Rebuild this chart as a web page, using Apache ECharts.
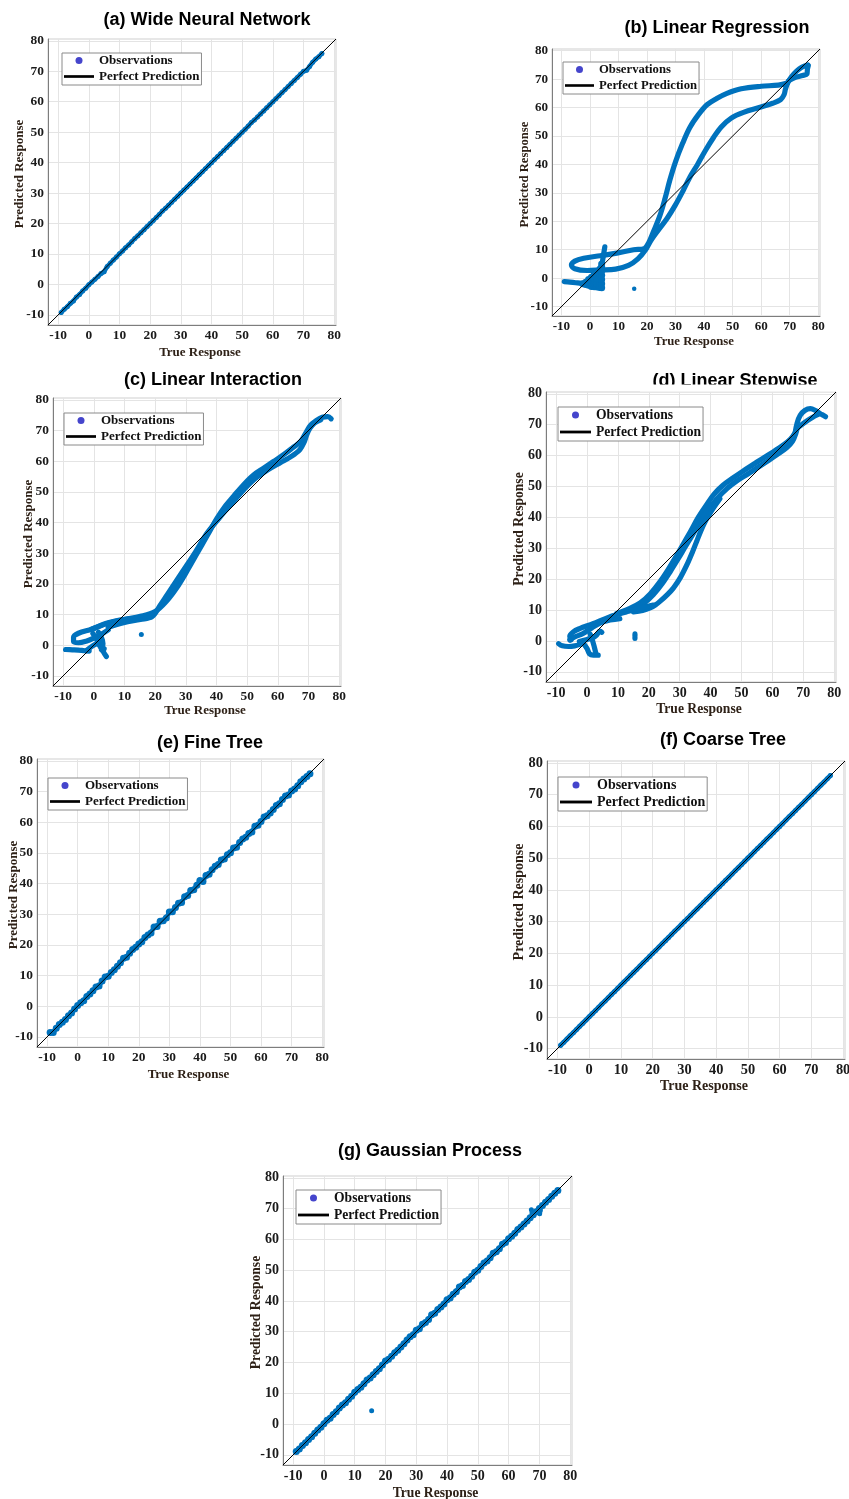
<!DOCTYPE html>
<html><head><meta charset="utf-8">
<script src="https://cdn.jsdelivr.net/npm/echarts@6/dist/echarts.min.js"></script>
<style>html,body{margin:0;padding:0;background:#fff}#chart{width:849px;height:1499px}</style>
</head><body><div id="chart"></div>
<script>
// ---------------- DATA ----------------
const tickValues = [-10, 0, 10, 20, 30, 40, 50, 60, 70, 80];
const axisLimits = [-13.3, 80.6];
const panelTitles = ['(a) Wide Neural Network', '(b) Linear Regression', '(c) Linear Interaction',
  '(d) Linear Stepwise', '(e) Fine Tree', '(f) Coarse Tree', '(g) Gaussian Process'];
const legendNames = ['Observations', 'Perfect Prediction'];

const trueResp = [
  -9, -8, -7, -6, -5, -4, -3, -2, -1, 0,
  1, 2, 3, 4, 5, 6, 7, 8, 9, 10,
  11, 12, 13, 14, 15, 16, 17, 18, 19, 20,
  21, 22, 23, 24, 25, 26, 27, 28, 29, 30,
  31, 32, 33, 34, 35, 36, 37, 38, 39, 40,
  41, 42, 43, 44, 45, 46, 47, 48, 49, 50,
  51, 52, 53, 54, 55, 56, 57, 58, 59, 60,
  61, 62, 63, 64, 65, 66, 67, 68, 69, 70,
  71, 72, 73, 74, 75, 76];
const predWNN = [
  -9.2, -8.1, -7.3, -6.2, -5.4, -4.1, -3.3, -2.1, -1.2, -0.1,
  0.8, 1.7, 2.6, 3.6, 4.2, 5.9, 7.0, 8.0, 9.0, 10.1,
  11.0, 12.1, 13.0, 14.0, 15.1, 16.0, 17.0, 18.0, 19.0, 20.0,
  21.0, 22.0, 23.0, 24.1, 25.0, 26.0, 27.0, 28.0, 29.0, 30.0,
  31.0, 32.0, 33.0, 34.0, 35.0, 36.0, 37.0, 38.0, 39.0, 40.0,
  41.0, 42.0, 43.0, 44.0, 45.0, 46.0, 47.0, 48.0, 49.0, 50.0,
  51.0, 52.0, 53.2, 54.0, 55.0, 56.0, 57.0, 58.0, 59.0, 60.0,
  61.0, 62.0, 63.0, 64.0, 65.0, 66.0, 67.0, 68.0, 69.0, 70.0,
  70.3, 71.6, 73.0, 74.0, 74.8, 75.8];
const predFineTree = [
  -8.6, -8.6, -7.2, -6.0, -5.2, -4.3, -3.1, -2.2, -0.9, 0.2,
  1.1, 1.8, 3.2, 4.0, 5.0, 6.3, 6.6, 8.2, 9.5, 9.8,
  11.0, 11.9, 13.0, 14.2, 15.6, 16.0, 17.3, 18.5, 19.2, 20.3,
  21.0, 22.4, 23.2, 23.9, 25.8, 26.0, 27.7, 27.9, 28.8, 30.7,
  30.8, 32.2, 33.6, 33.8, 35.7, 36.1, 37.7, 38.0, 39.4, 41.0,
  40.7, 42.6, 43.0, 44.5, 45.6, 46.2, 47.7, 48.0, 49.4, 50.0,
  51.6, 51.8, 53.4, 54.5, 55.1, 56.3, 56.8, 58.7, 59.0, 60.2,
  61.7, 62.1, 63.0, 64.1, 65.4, 66.0, 67.4, 68.5, 68.9, 70.2,
  70.8, 71.9, 73.2, 74.1, 74.9, 75.8];
const predCoarseTree = [
  -9, -8, -7, -6, -5, -4, -3, -2, -1, 0,
  1, 2, 3, 4, 5, 6, 7, 8, 9, 10,
  11, 12, 13, 14, 15, 16, 17, 18, 19, 20,
  21, 22, 23, 24, 25, 26, 27, 28, 29, 30,
  31, 32, 33, 34, 35, 36, 37, 38, 39, 40,
  41, 42, 43, 44, 45, 46, 47, 48, 49, 50,
  51, 52, 53, 54, 55, 56, 57, 58, 59, 60,
  61, 62, 63, 64, 65, 66, 67, 68, 69, 70,
  71, 72, 73, 74, 75, 76];
const predGP = [
  -8.9, -8.1, -7.0, -6.1, -5.0, -4.1, -3.0, -1.9, -1.0, 0.1,
  1.2, 1.9, 3.1, 4.0, 5.2, 6.2, 6.9, 8.1, 9.0, 10.3,
  11.2, 12.0, 13.1, 14.3, 15.0, 16.0, 17.1, 18.0, 19.2, 20.5,
  21.1, 22.0, 23.2, 24.0, 25.0, 26.1, 27.3, 28.4, 29.0, 30.5,
  31.0, 32.4, 33.0, 34.0, 35.5, 36.0, 37.2, 38.0, 39.0, 40.4,
  41.0, 42.2, 43.0, 44.5, 45.0, 46.3, 47.0, 48.0, 49.3, 50.0,
  51.2, 52.3, 53.0, 54.0, 55.5, 56.0, 57.0, 58.4, 59.0, 60.2,
  61.0, 62.0, 63.2, 64.0, 65.0, 66.0, 67.0, 68.0, 69.0, 70.0,
  71.0, 72.1, 73.0, 74.0, 75.0, 75.9];
const gpOffLine = [[15.5, 4.3], [67.4, 69.6], [67.6, 68.7], [70.1, 68.3], [70.3, 69.3]];

// (b) Linear Regression traces [true, predicted]
const lrLoop = [[69.2,68.6],[66.0,67.9],[60.0,67.5],[53.0,66.6],[48.0,65.0],[44.4,63.2],[41.0,61.0],[38.0,57.5],
  [35.0,53.0],[32.5,47.5],[30.0,41.0],[28.0,34.5],[26.3,28.0],[24.5,22.0],[22.3,16.5],[20.5,12.3],[19.0,10.4],
  [15.3,10.0],[9.4,8.8],[3.6,7.9],[-2.2,7.0],[-5.3,6.0],[-6.5,4.6],[-5.3,3.3],[-1.0,2.7],[3.6,2.9],[9.0,3.2],
  [13.5,4.5],[16.8,6.8],[19.5,10.0],[21.5,13.5],[24.0,17.0],[27.0,21.0],[29.8,25.5],[32.5,30.5],[35.0,35.5],
  [37.7,40.0],[40.5,45.0],[43.3,49.5],[46.0,53.2],[49.5,56.3],[53.8,58.3],[59.6,60.1],[64.0,61.5],[66.8,62.8],
  [68.0,64.5],[68.5,66.5],[69.2,68.6]];
const lrTailA = [[69.2,68.6],[70.6,70.8],[72.4,72.8],[74.2,74.2],[76.3,75.0]];
const lrTailB = [[69.6,69.4],[72.0,70.6],[74.5,71.3],[76.0,71.8],[76.2,73.5],[76.5,74.8]];
const lrStem = [[4.0,3.5],[4.4,6.0],[4.8,8.5],[5.2,11.0]];
const lrBand = [[-9.0,-1.2],[-7.0,-1.4],[-5.0,-1.6],[-3.0,-1.8],[-1.5,-2.0]];
const lrCluster = [[-2.5,-2.0],[-1.5,-2.2],[-1.5,-1.4],[-0.5,-2.5],[-0.5,-1.4],[-0.5,-0.5],
  [0.5,-2.9],[0.5,-1.8],[0.5,-0.7],[0.5,0.3],[1.5,-3.0],[1.5,-2.0],[1.5,-1.0],[1.5,0.0],[1.5,1.2],
  [2.5,-3.1],[2.5,-2.0],[2.5,-1.0],[2.5,0.0],[2.5,1.0],[2.5,2.2],
  [3.5,-3.3],[3.5,-2.2],[3.5,-1.1],[3.5,0.0],[3.5,1.1],[3.5,2.2],[3.5,3.2],
  [4.1,-3.4],[4.1,-2.0],[4.1,-0.5],[4.1,1.0],[4.1,2.5],[4.1,4.0],[4.1,5.0]];
const lrOutlier = [[15.5,-3.7]];

// (c) Linear Interaction traces
const liUpper = [[-0.7,5.2],[4.7,7.3],[9.7,8.4],[15.2,9.4],[20.0,11.0],[23.9,14.6],[27.1,18.8],[30.4,24.2],
  [33.6,29.8],[36.9,35.6],[40.2,41.4],[43.0,45.5],[45.6,48.6],[49.0,52.5],[52.1,55.5],[55.5,57.8],[58.6,59.9],
  [62.0,62.2],[65.0,64.5],[67.5,66.5],[69.0,69.0],[70.5,71.5],[72.5,73.2],[74.5,74.3],[76.3,74.5],[77.4,73.8]];
const liLower = [[4.7,5.8],[9.7,7.3],[15.2,8.4],[19.0,9.3],[21.5,12.8],[23.9,16.4],[28.2,22.9],[32.6,29.5],
  [36.9,36.5],[40.2,40.6],[43.0,44.0],[45.6,46.9],[49.0,50.8],[52.1,53.9],[56.5,57.0],[60.8,59.5],[63.5,61.0],
  [65.5,62.3],[67.2,63.8],[68.5,66.0],[69.5,68.8],[70.5,70.8],[72.0,72.5],[74.0,73.5]];
const liLoop = [[15.2,8.8],[9.7,8.3],[4.7,7.2],[-0.7,5.2],[-5.0,3.9],[-6.6,2.6],[-6.6,1.2],[-5.0,0.8],
  [-2.5,1.3],[0.0,2.3],[2.5,3.6],[4.7,5.0]];
const liBand = [[-9.2,-1.4],[-7.0,-1.5],[-5.0,-1.6],[-3.0,-1.8],[-1.5,-1.9]];
const liCrossA = [[-0.3,3.8],[1.0,1.8],[2.2,-0.5],[3.2,-2.3],[4.1,-3.7]];
const liCrossB = [[-2.5,-1.8],[-0.5,-0.3],[1.2,0.5],[2.6,-1.0],[3.4,-1.2]];
const liCrossC = [[1.5,4.2],[2.5,2.5],[3.0,0.5],[2.5,-1.5]];
const liOutlier = [[15.5,3.5]];

// (d) Linear Stepwise traces
const lsS1 = [[9.6,8.9],[13.5,10.4],[17.2,12.3],[20.5,15.3],[23.7,19.3],[26.5,23.5],[29.1,27.8],[31.3,31.6],
  [33.4,35.3],[36.0,40.0],[38.5,43.8],[41.2,47.6],[44.0,50.4],[47.0,52.6],[50.5,55.0],[53.9,57.2],[57.0,59.2],
  [60.4,61.3],[63.5,63.4],[65.8,65.3],[67.4,67.5],[68.2,69.5]];
const lsS2 = [[15.0,9.8],[18.5,12.2],[21.5,15.0],[24.3,18.5],[26.9,22.4],[29.5,26.6],[31.8,30.5],[33.8,33.8],
  [35.5,36.6],[38.8,41.9],[42.0,46.0],[45.3,49.3],[48.5,51.8],[51.8,53.9],[55.0,56.0],[58.2,58.1],[61.5,60.3],
  [64.7,62.6],[66.5,64.6],[67.6,67.2],[68.2,69.5]];
const lsS3 = [[15.0,9.4],[18.0,9.9],[20.4,10.7],[22.2,11.7],[23.6,12.8],[26.0,15.0],[28.0,17.2],[30.2,20.5],
  [32.3,24.6],[34.0,28.5],[35.5,32.3],[36.9,35.8],[38.2,38.6],[39.5,40.8],[40.9,43.0],[43.0,46.0]];
const lsHook = [[67.4,67.5],[68.0,70.5],[69.0,73.0],[70.5,74.6],[72.3,75.2],[74.0,74.6],[75.5,73.6],[76.6,73.0],[77.2,72.6]];
const lsHookB = [[68.2,69.0],[70.5,70.8],[72.8,72.3],[75.0,73.4]];
const lsLoopA = [[21.4,11.6],[17.0,10.6],[12.7,9.4],[7.3,7.8],[1.9,5.6],[-2.4,4.0],[-4.5,2.9],[-5.6,1.5],[-5.2,0.3]];
const lsLoopB = [[10.6,7.2],[5.2,6.2],[1.5,4.2],[-1.3,2.4],[-4.0,1.3],[-5.6,0.3]];
const lsBand = [[-9.2,-0.9],[-8.0,-1.6],[-6.0,-1.8],[-4.0,-1.6],[-2.5,-1.2]];
const lsCrossA = [[-1.2,-0.8],[0.0,-2.5],[0.8,-4.2],[2.0,-4.6],[3.6,-4.6]];
const lsCrossB = [[-2.5,-0.2],[0.0,0.5],[1.8,1.0],[3.0,1.8],[4.2,3.2],[4.8,2.8]];
const lsCrossC = [[1.0,2.2],[1.8,0.0],[2.4,-2.2],[2.8,-3.8]];
const lsOutlier = [[15.5,0.8],[15.5,1.3],[15.5,1.8],[15.5,2.3]];

// ---------------- LAYOUT / STYLE ----------------
const SERIF = "'Liberation Serif','Times New Roman',serif";
const SANS = "'Liberation Sans',Arial,Helvetica,sans-serif";
const BLUE = '#0072BD';
const LEGEND_DOT = '#4545cc';

function pairs(xs, ys) { return xs.map((x, k) => [x, ys[k]]); }

const layout = [
  {grid:[48,39,288,286],   title:[207,11],   legend:[62,53],   font:13,   yGap:21.5, xGap:21},
  {grid:[552,49,268,267],  title:[717,19],   legend:[563,62],  font:12.7, yGap:20.5, xGap:19.5},
  {grid:[53,398,288,288],  title:[213,371],  legend:[64,413],  font:13,   yGap:17.5, xGap:18.5},
  {grid:[546,392,290,290], title:[735,372],  legend:[558,407], font:13.6, yGap:20,   xGap:20.3},
  {grid:[37,759,287,288],  title:[210,734],  legend:[48,778],  font:13,   yGap:17,   xGap:21},
  {grid:[547,761,298,298], title:[723,731],  legend:[558,777], font:14,   yGap:21,   xGap:20.5},
  {grid:[283,1176,289,289],title:[430,1142], legend:[296,1190],font:13.6, yGap:20,   xGap:21.3}
];

// band: width of a connecting stroke drawn under the dots (0 = none)
const obsPieces = [
  [{kind:'scatter', pts:pairs(trueResp, predWNN), size:5, band:4.5}],
  [{kind:'line', pts:lrLoop},{kind:'line', pts:lrTailA},{kind:'line', pts:lrTailB},{kind:'line', pts:lrStem},
   {kind:'line', pts:lrBand},{kind:'scatter', pts:lrCluster, size:7},{kind:'scatter', pts:lrOutlier, size:4.5}],
  [{kind:'line', pts:liUpper},{kind:'line', pts:liLower},{kind:'line', pts:liLoop},{kind:'line', pts:liBand},
   {kind:'line', pts:liCrossA},{kind:'line', pts:liCrossB},{kind:'line', pts:liCrossC},{kind:'scatter', pts:liOutlier, size:5}],
  [{kind:'line', pts:lsS1},{kind:'line', pts:lsS2},{kind:'line', pts:lsS3},{kind:'line', pts:lsHook},{kind:'line', pts:lsHookB},
   {kind:'line', pts:lsLoopA},{kind:'line', pts:lsLoopB},{kind:'line', pts:lsBand},{kind:'line', pts:lsCrossA},
   {kind:'line', pts:lsCrossB},{kind:'line', pts:lsCrossC},{kind:'scatter', pts:lsOutlier, size:5}],
  [{kind:'scatter', pts:pairs(trueResp, predFineTree), size:7, band:4.5}],
  [{kind:'scatter', pts:pairs(trueResp, predCoarseTree), size:5, band:5}],
  [{kind:'scatter', pts:pairs(trueResp, predGP), size:7, band:5},{kind:'scatter', pts:gpOffLine, size:5}]
];

function makeAxis(i, isX, p) {
  return {
    type:'value', gridIndex:i, min:axisLimits[0], max:axisLimits[1],
    name: isX ? 'True Response' : 'Predicted Response',
    nameLocation:'middle', nameGap: isX ? p.xGap : p.yGap, nameMoveOverlap:false,
    nameTextStyle:{fontFamily:SERIF, fontWeight:'bold', fontSize:p.font, color:'#2e2117', padding:[0,0,0,16]},
    axisLine:{show:true, onZero:false, lineStyle:{color:'#7d7d7d', width:1}},
    axisTick:{show:false, customValues:tickValues},
    axisLabel:{customValues:tickValues, fontFamily:SERIF, fontWeight:'bold', fontSize:p.font + 0.4, color:'#1a1a1a', margin:4},
    splitLine:{show:true, lineStyle:{color:'#e4e4e4', width:1}}
  };
}

const option = {animation:false, backgroundColor:'#ffffff', grid:[], xAxis:[], yAxis:[], title:[], legend:[], series:[],
  graphic:{elements:[{type:'rect', shape:{x:640, y:384.5, width:195, height:7}, style:{fill:'#ffffff'}, z:100, silent:true}]}};

layout.forEach((p, i) => {
  option.grid.push({left:p.grid[0], top:p.grid[1], width:p.grid[2], height:p.grid[3], show:true,
    borderColor:'#cfcfcf', borderWidth:1, containLabel:false, outerBoundsMode:'none'});
  option.xAxis.push(makeAxis(i, true, p));
  option.yAxis.push(makeAxis(i, false, p));
  option.title.push({text:panelTitles[i], left:p.title[0], top:p.title[1], textAlign:'center', padding:0,
    textStyle:{fontFamily:SANS, fontWeight:'bold', fontSize:18, color:'#000'}});
  option.legend.push({left:p.legend[0], top:p.legend[1], orient:'vertical', padding:[1,2,2,2], itemGap:3,
    itemWidth:Math.round(p.font*2.3), itemHeight:7, borderColor:'#8a8a8a', borderWidth:1, backgroundColor:'#ffffff',
    selectedMode:false, textStyle:{fontFamily:SERIF, fontWeight:'bold', fontSize:p.font, color:'#111'},
    data:[{name:legendNames[0], icon:'circle', itemStyle:{color:LEGEND_DOT, borderWidth:0}},
          {name:legendNames[1], icon:'path://M0,0H100V9H0Z', itemStyle:{color:'#000000', borderWidth:0}}]});
  obsPieces[i].forEach(pc => {
    if (pc.kind === 'scatter') {
      if (pc.band) {
        option.series.push({type:'line', name:legendNames[0], xAxisIndex:i, yAxisIndex:i, data:pc.pts,
          symbol:'none', showSymbol:false, itemStyle:{color:BLUE},
          lineStyle:{color:BLUE, width:pc.band, cap:'round', join:'round'}, silent:true, z:2});
      }
      option.series.push({type:'scatter', name:legendNames[0], xAxisIndex:i, yAxisIndex:i, data:pc.pts,
        symbolSize:pc.size, itemStyle:{color:BLUE, opacity:1}, silent:true, z:2});
    } else {
      option.series.push({type:'line', name:legendNames[0], xAxisIndex:i, yAxisIndex:i, data:pc.pts,
        smooth:0.35, symbol:'none', showSymbol:false, itemStyle:{color:BLUE},
        lineStyle:{color:BLUE, width:5.2, cap:'round', join:'round'}, silent:true, z:2});
    }
  });
  option.series.push({type:'line', name:legendNames[1], xAxisIndex:i, yAxisIndex:i,
    data:[[axisLimits[0], axisLimits[0]], [axisLimits[1], axisLimits[1]]],
    symbol:'none', itemStyle:{color:'#000'}, lineStyle:{color:'#000', width:1}, silent:true, z:3});
});

const chart = echarts.init(document.getElementById('chart'), null, {renderer:'canvas'});
chart.setOption(option);
</script>
</body></html>
